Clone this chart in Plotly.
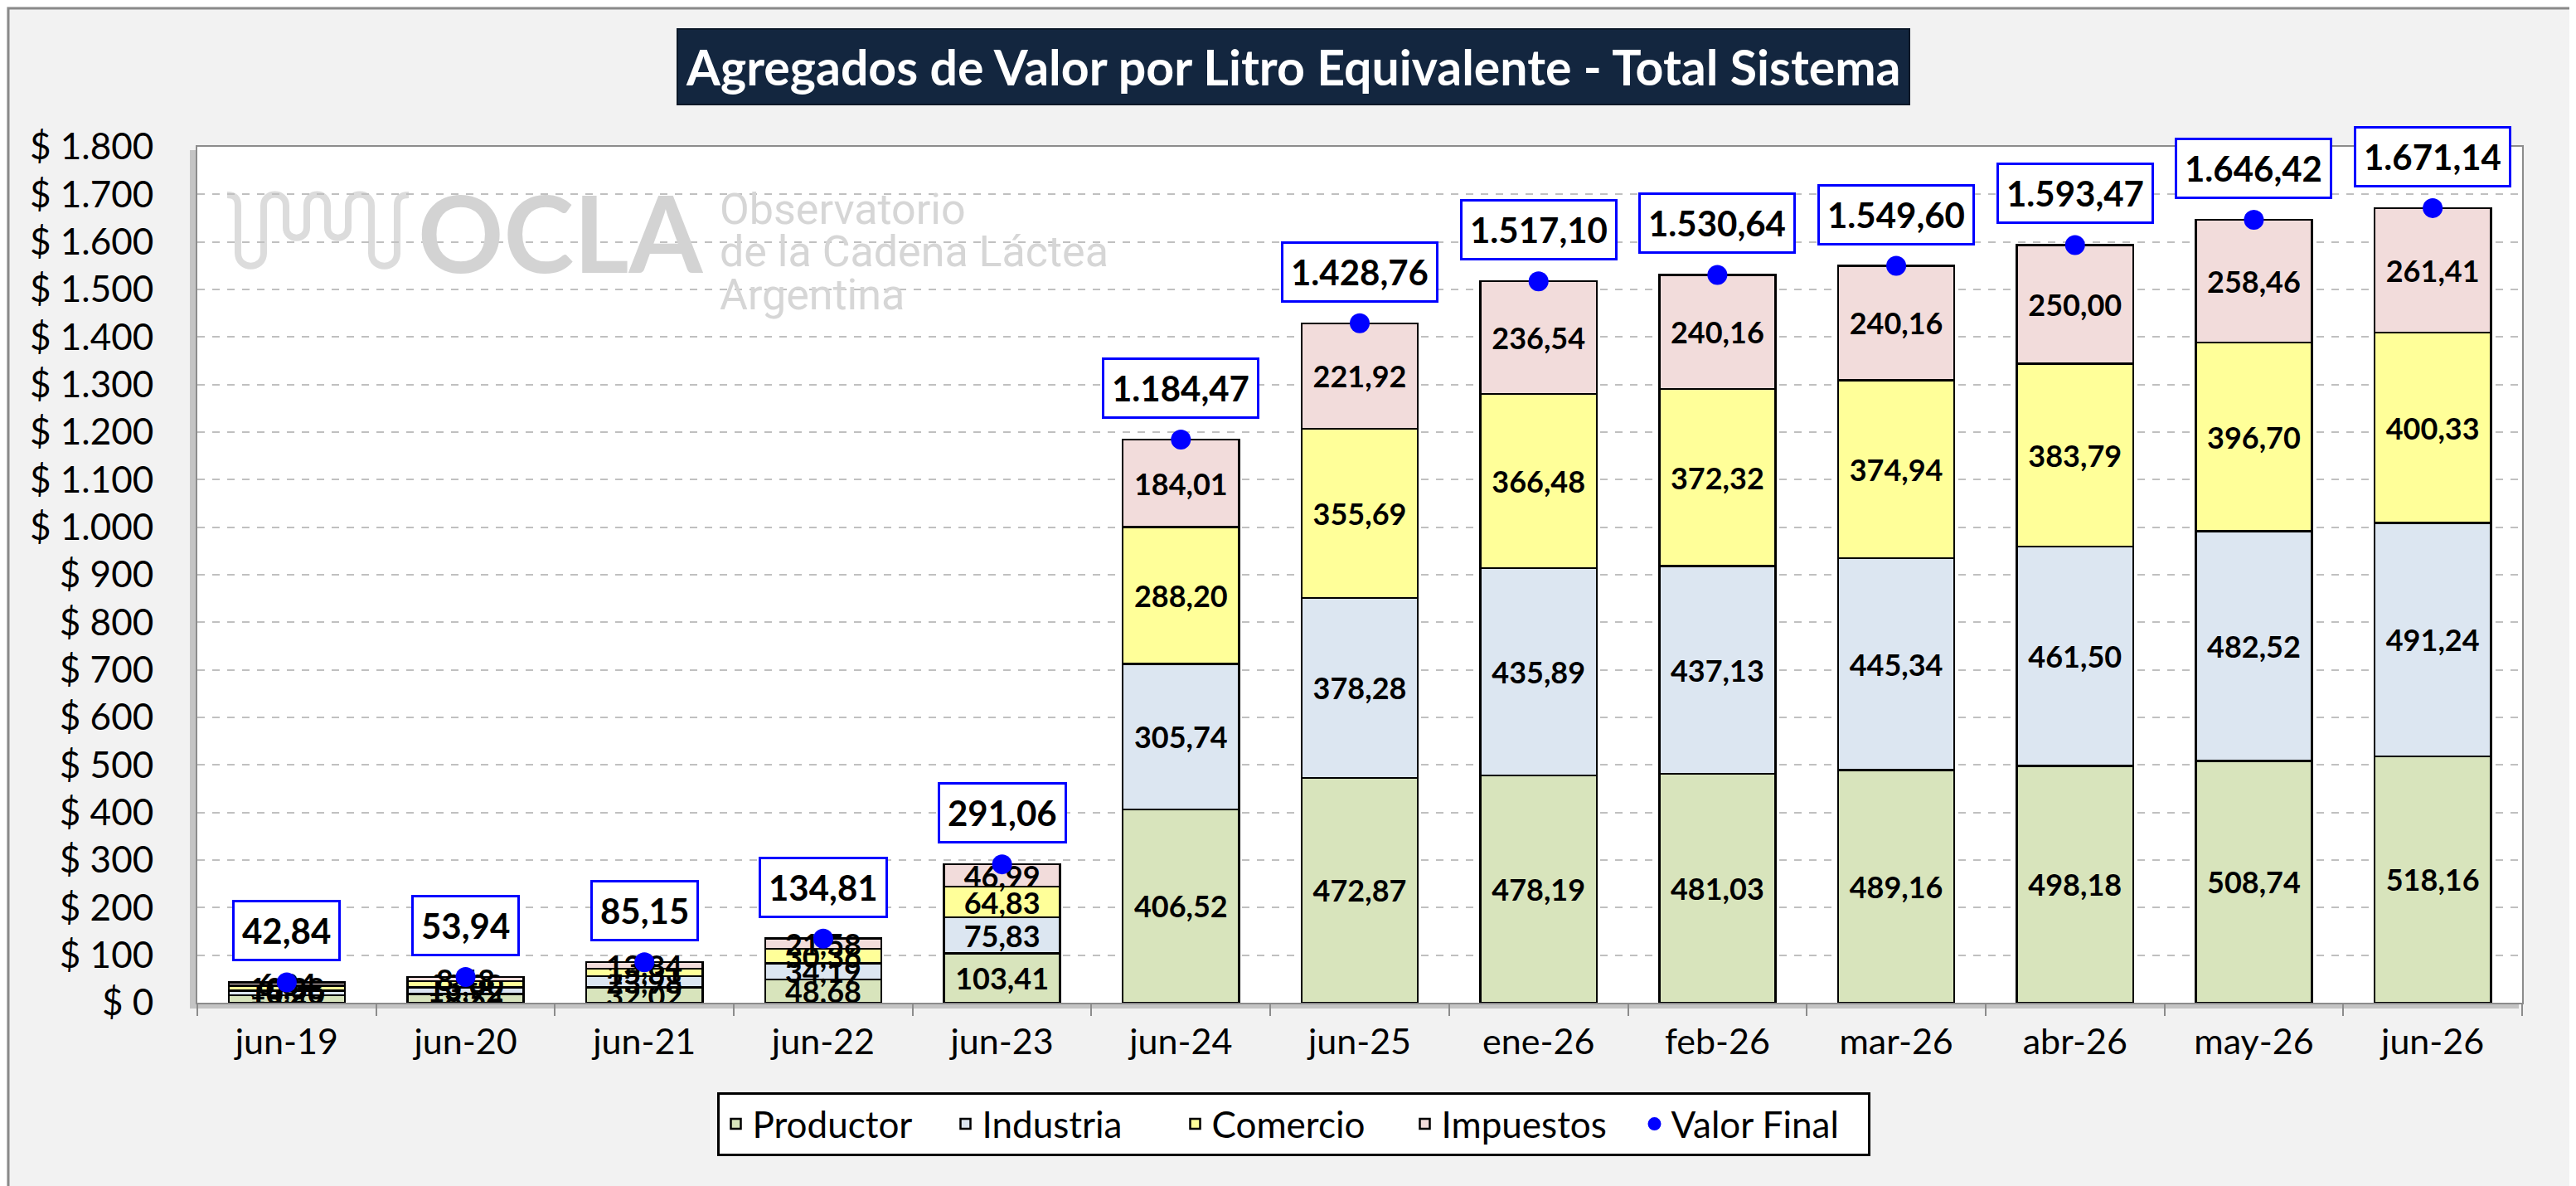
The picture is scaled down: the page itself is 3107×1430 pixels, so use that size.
import plotly.graph_objects as go

# ---------------- data ----------------
CATEGORIES = ["jun-19", "jun-20", "jun-21", "jun-22", "jun-23", "jun-24", "jun-25",
              "ene-26", "feb-26", "mar-26", "abr-26", "may-26", "jun-26"]
PRODUCTOR = [15.42, 18.54, 32.02, 48.68, 103.41, 406.52, 472.87, 478.19, 481.03, 489.16, 498.18, 508.74, 518.16]
INDUSTRIA = [10.20, 13.92, 23.98, 34.19, 75.83, 305.74, 378.28, 435.89, 437.13, 445.34, 461.50, 482.52, 491.24]
COMERCIO = [10.38, 13.00, 15.31, 30.36, 64.83, 288.20, 355.69, 366.48, 372.32, 374.94, 383.79, 396.70, 400.33]
IMPUESTOS = [6.84, 8.48, 13.84, 21.58, 46.99, 184.01, 221.92, 236.54, 240.16, 240.16, 250.00, 258.46, 261.41]
VALOR_FINAL = [42.84, 53.94, 85.15, 134.81, 291.06, 1184.47, 1428.76, 1517.10, 1530.64, 1549.60, 1593.47, 1646.42, 1671.14]
Y_TICK_VALUES = [0, 100, 200, 300, 400, 500, 600, 700, 800, 900, 1000, 1100, 1200, 1300, 1400, 1500, 1600, 1700, 1800]
Y_TICK_LABELS = ["$ 0", "$ 100", "$ 200", "$ 300", "$ 400", "$ 500", "$ 600", "$ 700", "$ 800", "$ 900",
                 "$ 1.000", "$ 1.100", "$ 1.200", "$ 1.300", "$ 1.400", "$ 1.500", "$ 1.600", "$ 1.700", "$ 1.800"]
SERIES_NAMES = ["Productor", "Industria", "Comercio", "Impuestos"]
SERIES_COLORS = ["#d8e4bc", "#dce6f1", "#ffff99", "#f2dcdb"]
TITLE = "Agregados de Valor por Litro Equivalente - Total Sistema"
WATERMARK_LINES = ["Observatorio", "de la Cadena Láctea", "Argentina"]

# ---------------- layout geometry ----------------
W, H = 3107, 1430
PL, PR, PT, PB = 230, 3034, 169, 1201  # plot area in pixels
FONT = "Lato, Carlito, 'Open Sans', sans-serif"


def px(x):
    return (x - PL) / (PR - PL)


def py(y):
    return (PB - y) / (PB - PT)


def fmt_es(v):
    s = f"{v:,.2f}"
    return s.replace(",", "X").replace(".", ",").replace("X", ".")


fig = go.Figure()

for name, vals, col in zip(SERIES_NAMES, [PRODUCTOR, INDUSTRIA, COMERCIO, IMPUESTOS], SERIES_COLORS):
    fig.add_trace(go.Bar(
        x=CATEGORIES, y=vals, name=name,
        marker=dict(color=col, line=dict(color="#000000", width=2.5)),
        texttemplate="%{y:.2f}", textposition="inside", insidetextanchor="middle",
        textangle=0, constraintext="none",
        textfont=dict(family=FONT, size=36, color="#000000", weight="bold"),
        hoverinfo="skip",
    ))

fig.add_trace(go.Scatter(
    x=CATEGORIES, y=VALOR_FINAL, name="Valor Final", mode="markers",
    marker=dict(color="#0000ff", size=24), hoverinfo="skip",
))

annotations = []
for c, v in zip(CATEGORIES, VALOR_FINAL):
    annotations.append(dict(
        x=c, y=v, xref="x", yref="y", text="<b>" + fmt_es(v) + "</b>", showarrow=False,
        yanchor="middle", yshift=62,
        font=dict(family=FONT, size=42, color="#000000"),
        bgcolor="#ffffff", bordercolor="#0000ff", borderwidth=3, borderpad=9,
    ))

# title box
annotations.append(dict(
    x=px(1552), y=py(72), xref="paper", yref="paper", xanchor="center", yanchor="middle",
    text="<b>" + TITLE + "</b>", showarrow=False,
    font=dict(family=FONT, size=59, color="#ffffff"),
    bgcolor="#13263f", bordercolor="#0b1828", borderwidth=2, borderpad=9,
))

# watermark
annotations.append(dict(
    x=px(494), y=py(272), xref="paper", yref="paper", xanchor="left", yanchor="middle",
    text="<b>OCLA</b>", showarrow=False,
    font=dict(family=FONT, size=128, color="#d3d3d3"),
))
for line, yc in zip(WATERMARK_LINES, [244, 295, 347]):
    annotations.append(dict(
        x=px(858), y=py(yc), xref="paper", yref="paper", xanchor="left", yanchor="middle",
        text=line, showarrow=False,
        font=dict(family="Roboto, Lato, sans-serif", size=52, color="#d6d6d6"),
    ))


def pt(x, y):
    return f"{px(x):.5f},{py(y):.5f}"


# watermark squiggle (logo), built in pixel positions converted to paper units
seg = ["M" + pt(266, 227), "C" + pt(275, 227) + " " + pt(279, 231) + " " + pt(279, 240),
       "L" + pt(279, 297)]
seg.append("C" + pt(279, 318) + " " + pt(310, 318) + " " + pt(310, 297))
x_pairs = [(310, 337), (362, 387), (412, 440)]
u_pairs = [(337, 362), (387, 412)]
seg.append("L" + pt(310, 240))
for i, (a, b) in enumerate(x_pairs):
    seg.append("C" + pt(a, 222) + " " + pt(b, 222) + " " + pt(b, 240))
    if i < len(u_pairs):
        ua, ub = u_pairs[i]
        seg.append("L" + pt(ua, 266))
        seg.append("C" + pt(ua, 283) + " " + pt(ub, 283) + " " + pt(ub, 266))
        seg.append("L" + pt(ub, 240))
seg.append("L" + pt(440, 297))
seg.append("C" + pt(440, 318) + " " + pt(471, 318) + " " + pt(471, 297))
seg.append("L" + pt(471, 240))
seg.append("C" + pt(471, 231) + " " + pt(475, 227) + " " + pt(485, 227))
logo_path = " ".join(seg)

shapes = [
    # outer frame
    dict(type="rect", xref="paper", yref="paper", x0=px(2), x1=px(W - 2), y0=py(2), y1=py(H - 2),
         line=dict(color="#8a8a8a", width=3), fillcolor="rgba(0,0,0,0)", layer="below"),
    # plot area shadow
    dict(type="rect", xref="paper", yref="paper", x0=px(PL - 9), x1=px(PR - 4), y0=py(PB + 7), y1=py(PT + 4),
         line=dict(width=0), fillcolor="#c4c4c4", layer="below"),
    # plot area
    dict(type="rect", xref="paper", yref="paper", x0=0, x1=1, y0=0, y1=1,
         line=dict(width=0), fillcolor="#ffffff", layer="below"),
    # logo squiggle
    dict(type="path", xref="paper", yref="paper", path=logo_path,
         line=dict(color="#dcdcdc", width=8), fillcolor="rgba(0,0,0,0)", layer="below"),
]

fig.update_layout(
    width=W, height=H,
    margin=dict(l=PL, r=W - PR, t=PT, b=H - PB, pad=0),
    paper_bgcolor="#f2f2f2", plot_bgcolor="rgba(0,0,0,0)",
    barmode="stack", bargap=0.35,
    separators=",.",
    font=dict(family=FONT, size=34, color="#000000"),
    showlegend=True,
    legend=dict(
        orientation="h", x=px(1552), xanchor="center", y=py(1309), yanchor="top",
        bgcolor="#ffffff", bordercolor="#000000", borderwidth=3,
        font=dict(family=FONT, size=44, color="#000000"),
        traceorder="normal", entrywidth=232, itemsizing="trace",
    ),
    annotations=annotations,
    shapes=shapes,
)

fig.update_yaxes(
    range=[0, 1800], tickvals=Y_TICK_VALUES, ticktext=Y_TICK_LABELS,
    showgrid=True, gridcolor="#c0c0c0", griddash="dash", gridwidth=2,
    zeroline=False, showline=True, mirror=True, linecolor="#8c8c8c", linewidth=2,
    ticks="", ticklabelstandoff=42,
    tickfont=dict(family=FONT, size=44, color="#000000"),
)
fig.update_xaxes(
    range=[-0.5, len(CATEGORIES) - 0.5],
    showgrid=False, showline=True, mirror=True, linecolor="#8c8c8c", linewidth=2,
    ticks="outside", tickson="boundaries", ticklen=14, tickcolor="#8c8c8c", tickwidth=2,
    ticklabelstandoff=8,
    tickfont=dict(family=FONT, size=43, color="#000000"),
)

fig.write_html("out.html")
